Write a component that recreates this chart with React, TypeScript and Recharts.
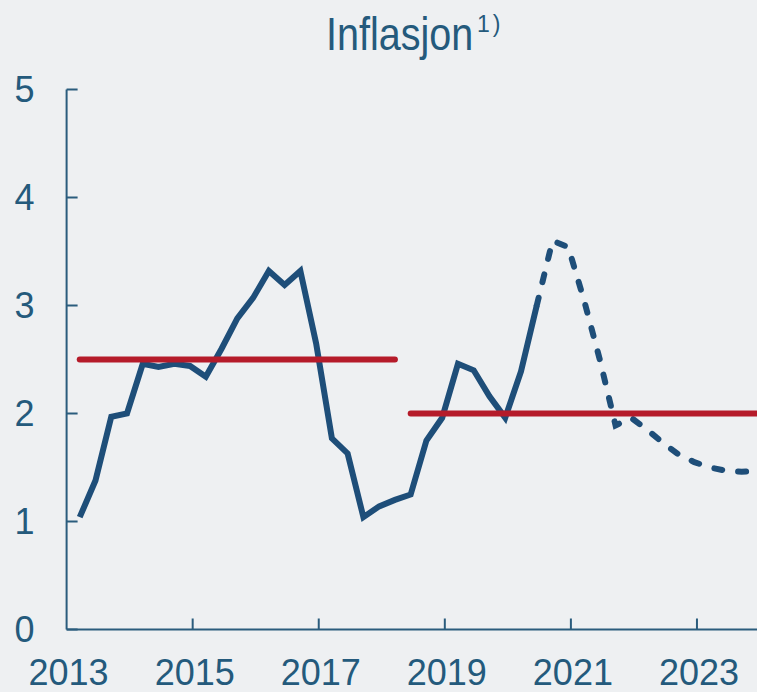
import { LineChart, Line, XAxis, YAxis } from "recharts";

// quarterly inflation, 2013Q1 onwards (plotted at mid of the quarter's last month)
const startYear = 2013;
const actual = [
  1.04, 1.38, 1.97, 2.0, 2.46, 2.43, 2.46, 2.44, 2.34, 2.6,
  2.88, 3.07, 3.32, 3.19, 3.32, 2.65, 1.77, 1.63, 1.04, 1.14,
  1.2, 1.25, 1.75, 1.96, 2.46, 2.4, 2.16, 1.96, 2.39, 3.0,
];
// projection starts at the last actual quarter
const forecast = [
  3.0, 3.6, 3.54, 3.05, 2.5, 1.89, 1.96, 1.85, 1.73, 1.62,
  1.55, 1.5, 1.47, 1.46, 1.47,
];
const oldTarget = 2.5; // until 2018Q1
const newTarget = 2.0; // from 2018Q2
const oldTargetLast = 20;
const newTargetFirst = 21;

const yearTicks = [2013, 2015, 2017, 2019, 2021, 2023];
const valueTicks = [0, 1, 2, 3, 4, 5];

const forecastStart = actual.length - 1;
const quarterCount = forecastStart + forecast.length;

const data = Array.from({ length: quarterCount }, (_, i) => ({
  t: startYear + (3 * i + 2.5) / 12,
  actual: i < actual.length ? actual[i] : null,
  forecast: i >= forecastStart ? forecast[i - forecastStart] : null,
  target1: i <= oldTargetLast ? oldTarget : null,
  target2: i >= newTargetFirst ? newTarget : null,
}));

const textColor = "#245a7c";
const axisColor = "#2a5c7d";
const blue = "#1e4e79";
const red = "#b51b2a";
const bg = "#eef0f2";
const font = "'Liberation Sans', Arial, sans-serif";

const YTick = ({ x, y, payload }: any) => (
  <g>
    <line x1={x} y1={y} x2={x + 11} y2={y} stroke={axisColor} strokeWidth={2} />
    <text x={x - 32} y={y} dy="0.36em" textAnchor="end" fontSize={36} fontFamily={font} fill={textColor}>
      {payload.value}
    </text>
  </g>
);

const XTick = ({ x, y, payload }: any) => (
  <g>
    {payload.value !== startYear && (
      <line x1={x} y1={y} x2={x} y2={y - 11} stroke={axisColor} strokeWidth={2} />
    )}
    <text x={x + 2} y={y + 55} textAnchor="middle" fontSize={36} fontFamily={font} fill={textColor}>
      {payload.value}
    </text>
  </g>
);

const App = () => {
  return (
    <div
      style={{
        position: "absolute", left: 0, top: 0, width: 757, height: 692,
        overflow: "hidden", background: bg,
      }}
    >
      <svg width={757} height={80} style={{ position: "absolute", left: 0, top: 0 }}>
        {/* condensed title: squeeze the regular face horizontally */}
        <g transform="translate(326,50) scale(0.86,1)">
          <text x={0} y={0} fontSize={46} fill={textColor} fontFamily={font}>
            Inflasjon
          </text>
        </g>
        <text x={477} y={32} fontSize={23} letterSpacing={3} fill={textColor} fontFamily={font}>
          1)
        </text>
      </svg>
      <LineChart
        width={770}
        height={692}
        data={data}
        margin={{ top: 89.5, right: 10, bottom: 0, left: 0 }}
        style={{ position: "absolute", left: 0, top: 0 }}
      >
        <XAxis
          type="number"
          dataKey="t"
          domain={[2013, 2024]}
          ticks={yearTicks}
          interval={0}
          height={62.5}
          tickLine={false}
          tickSize={0}
          tickMargin={0}
          axisLine={{ stroke: axisColor, strokeWidth: 2 }}
          tick={<XTick />}
        />
        <YAxis
          domain={[0, 5]}
          ticks={valueTicks}
          interval={0}
          width={66.6}
          tickLine={false}
          tickSize={0}
          tickMargin={0}
          axisLine={{ stroke: axisColor, strokeWidth: 2 }}
          tick={<YTick />}
        />
        <Line dataKey="actual" stroke={blue} strokeWidth={6} dot={false} activeDot={false} isAnimationActive={false} />
        <Line
          dataKey="forecast"
          stroke={blue}
          strokeWidth={6}
          strokeDasharray="8 16"
          strokeLinecap="round"
          dot={false}
          activeDot={false}
          isAnimationActive={false}
        />
        <Line dataKey="target1" stroke={red} strokeWidth={6} strokeLinecap="round" dot={false} activeDot={false} isAnimationActive={false} />
        <Line dataKey="target2" stroke={red} strokeWidth={6} strokeLinecap="round" dot={false} activeDot={false} isAnimationActive={false} />
      </LineChart>
    </div>
  );
};

export default App;
